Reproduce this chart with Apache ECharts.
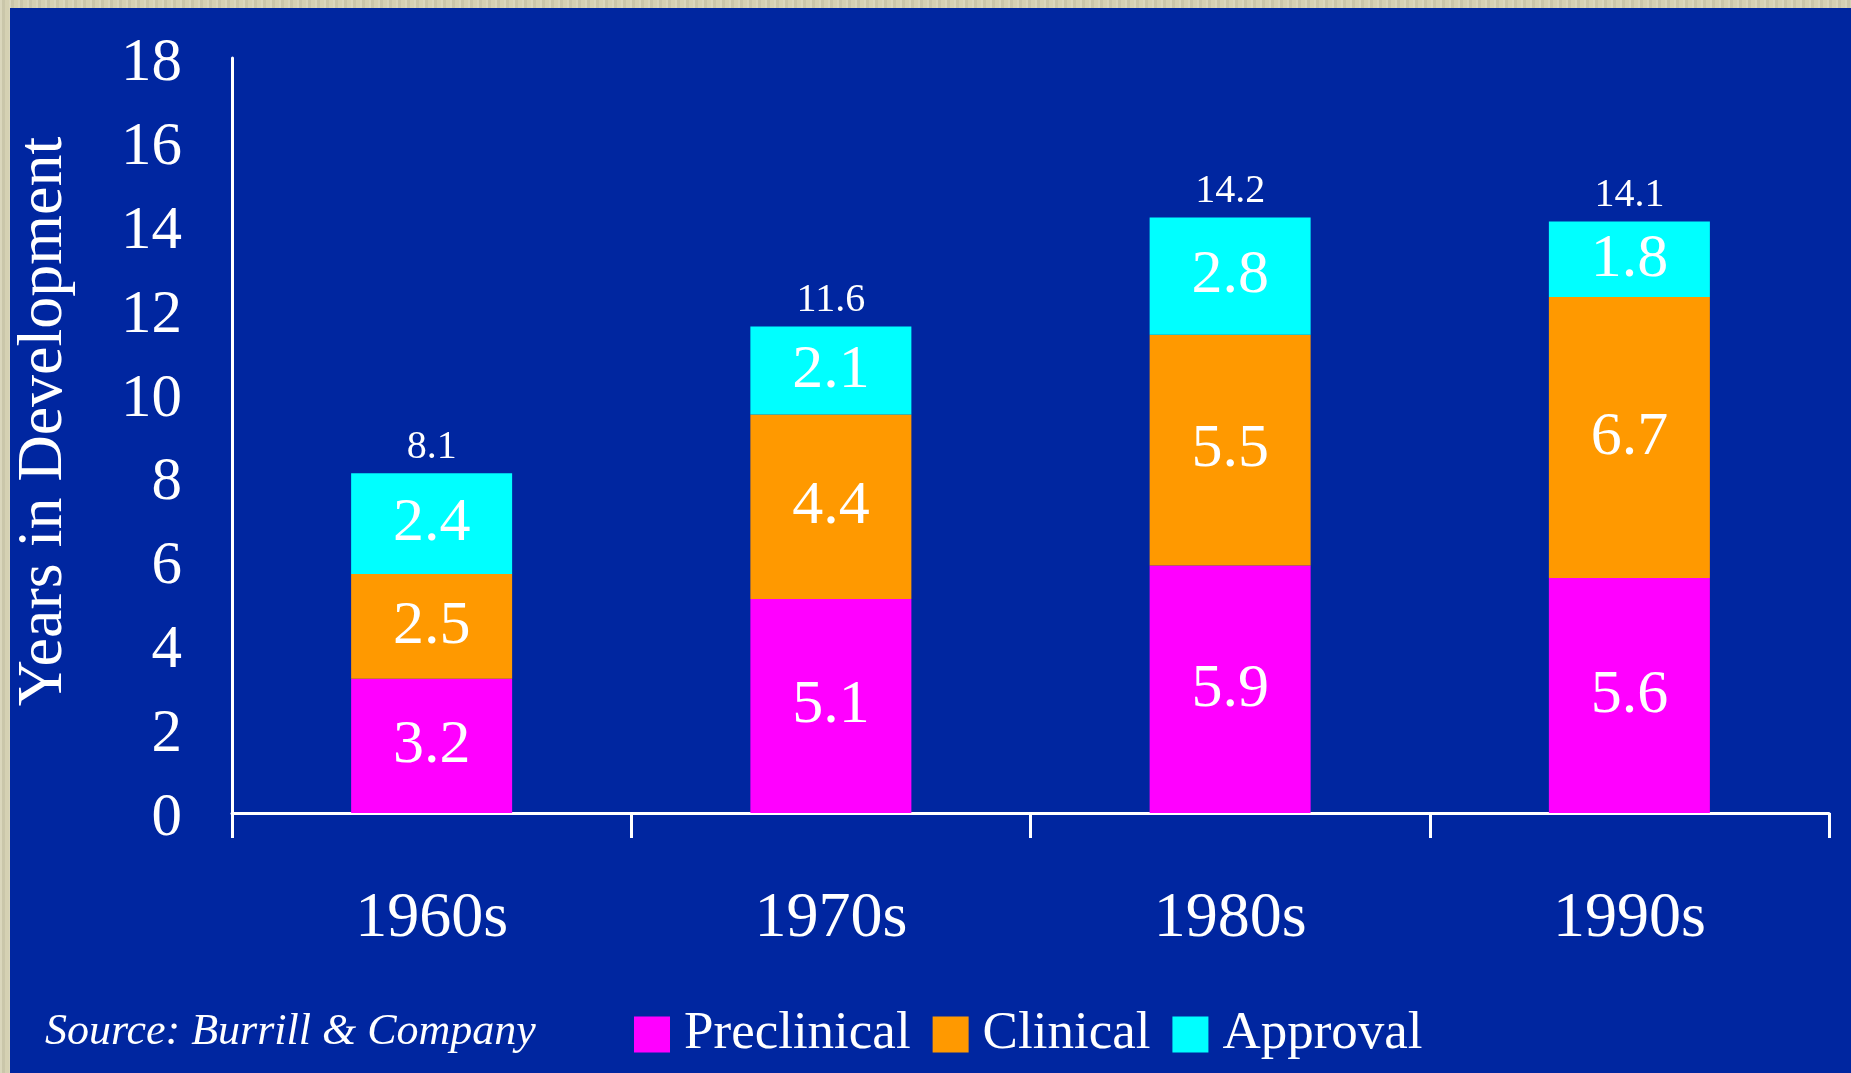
<!DOCTYPE html>
<html>
<head>
<meta charset="utf-8">
<script src="https://cdn.jsdelivr.net/npm/echarts@6/dist/echarts.min.js"></script>
<style>
  html, body {
    margin: 0;
    width: 100%;
    height: 100%;
    overflow: hidden;
    background-color: #d5d1b3;
    background-image: repeating-linear-gradient(90deg, rgba(255,255,255,0.12) 0 2px, rgba(0,0,0,0.05) 2px 5px, rgba(255,255,255,0) 5px 9px);
  }
  #chart {
    position: absolute;
    left: 10px;
    top: 8px;
    right: 0;
    bottom: 0;
  }
</style>
</head>
<body>
<div id="chart"></div>
<script>
// 数据
const decades = ['1960s', '1970s', '1980s', '1990s'];
const preclinical = [3.2, 5.1, 5.9, 5.6];
const clinical = [2.5, 4.4, 5.5, 6.7];
const approval = [2.4, 2.1, 2.8, 1.8];
const totals = [8.1, 11.6, 14.2, 14.1];
const seriesNames = ['Preclinical', 'Clinical', 'Approval'];
const seriesColors = ['#ff00ff', '#ff9900', '#00ffff'];

const serif = '"Liberation Serif", "Times New Roman", serif';

const chart = echarts.init(document.getElementById('chart'));

// 堆叠柱的公共配置
const stackSeries = (name, data, color) => ({
  name: name,
  type: 'bar',
  stack: 'years',
  barWidth: 161,
  data: data,
  itemStyle: { color: color },
  label: {
    show: true,
    position: 'inside',
    color: '#ffffff',
    fontFamily: serif,
    fontSize: 62
  }
});

const option = {
  backgroundColor: '#0026a0',
  animation: false,
  grid: {
    left: 222,
    right: 22,
    top: 50,
    bottom: 260,
    outerBoundsMode: 'none'
  },
  legend: {
    data: seriesNames,
    left: 619,
    top: 995,
    icon: 'rect',
    itemWidth: 36,
    itemHeight: 36,
    itemGap: 22,
    textStyle: {
      color: '#ffffff',
      fontFamily: serif,
      fontSize: 53,
      padding: [0, 0, 0, 9]
    }
  },
  graphic: [
    {
      type: 'text',
      left: 35,
      top: 1002,
      style: {
        text: 'Source: Burrill & Company',
        fill: '#ffffff',
        font: 'italic 44px ' + serif
      }
    }
  ],
  xAxis: {
    type: 'category',
    data: decades,
    axisLine: { lineStyle: { color: '#ffffff', width: 3 } },
    axisTick: { show: true, length: 25, lineStyle: { color: '#ffffff', width: 3 } },
    axisLabel: {
      color: '#ffffff',
      fontFamily: serif,
      fontSize: 64,
      margin: 74
    }
  },
  yAxis: {
    type: 'value',
    min: 0,
    max: 18,
    interval: 2,
    name: 'Years in Development',
    nameLocation: 'middle',
    nameRotate: 90,
    nameGap: 156,
    nameTextStyle: {
      color: '#ffffff',
      fontFamily: serif,
      fontSize: 64,
      padding: [0, 0, 0, 28]
    },
    axisLine: { show: true, lineStyle: { color: '#ffffff', width: 3 } },
    axisTick: { show: false },
    splitLine: { show: false },
    axisLabel: {
      color: '#ffffff',
      fontFamily: serif,
      fontSize: 61,
      margin: 50,
      // 数字比刻度略低一点
      verticalAlign: 'top',
      lineHeight: 12
    }
  },
  series: [
    stackSeries(seriesNames[0], preclinical, seriesColors[0]),
    stackSeries(seriesNames[1], clinical, seriesColors[1]),
    stackSeries(seriesNames[2], approval, seriesColors[2]),
    {
      // 透明柱，只用来显示总数
      name: 'Total',
      type: 'bar',
      barWidth: 161,
      barGap: '-100%',
      silent: true,
      data: totals,
      itemStyle: { color: 'rgba(0,0,0,0)' },
      label: {
        show: true,
        position: 'top',
        distance: 6,
        color: '#ffffff',
        fontFamily: serif,
        fontSize: 40
      }
    }
  ]
};

chart.setOption(option);
</script>
</body>
</html>
